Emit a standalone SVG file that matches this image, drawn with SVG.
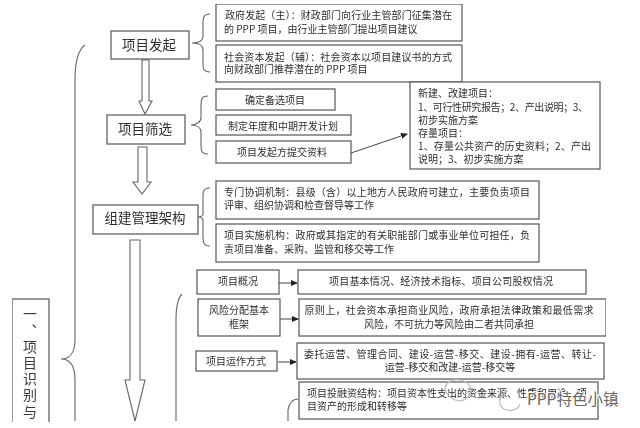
<svg xmlns="http://www.w3.org/2000/svg" width="640" height="428" viewBox="0 0 640 428">
<style>
text{font-family:"Noto Sans CJK SC","Liberation Sans",sans-serif;fill:#2e2e2e;font-size:10px}
.m{text-anchor:middle}
.t{font-size:13.5px}
.v{font-size:14px;writing-mode:vertical-rl;letter-spacing:2.2px;fill:#3a3a3a}
rect{fill:#fff;stroke:#555;stroke-width:1.2}
.c{fill:none;stroke:#666;stroke-width:1.1}
.h{fill:#fff;stroke:#666;stroke-width:1.1}
.a{fill:none;stroke:#444;stroke-width:1}
.w{fill:none;stroke:#bdbdbd;stroke-width:1.2}
</style>
<defs>
<marker id="ah" markerWidth="7" markerHeight="6" refX="6" refY="3" orient="auto" markerUnits="userSpaceOnUse"><path d="M0 0L7 3L0 6Z" fill="#222"/></marker>
<filter id="b" x="0" y="0" width="100%" height="100%"><feGaussianBlur stdDeviation="0.35"/></filter>
</defs>
<rect x="-1" y="-1" width="642" height="430" style="fill:#fff;stroke:none"/>
<g filter="url(#b)">
<g id="connectors">
<path class="h" d="M142 60H149V101H152L145 114L139 101H142Z"/>
<path class="h" d="M138 147H147V182H151L142 194L133 182H138Z"/>
<path class="h" d="M130 240H140V380H145L135 421L125 380H130Z"/>
<path class="c" d="M210 14C202 14 203 20 203 28V36C203 41 198 43 192 43C198 43 203 45 203 50V62C203 68 203 72 210 72"/>
<path class="c" d="M208 96C201 96 201 100 201 108V118C201 122 196 125 191 125C196 125 201 127 201 132V144C201 150 201 154 208 154"/>
<path class="c" d="M210 188C202 188 203 193 203 200V214C203 216 200 217 198 217C200 217 203 218 203 221V235C203 242 203 246 210 246"/>
<path class="c" d="M85 45C78 50 75 62 75 80V340C75 352 70 359 61 359C70 359 75 366 75 380V421"/>
<path class="c" d="M182 294C178 298 176 305 176 320V421"/>
<path class="c" d="M298 399C292 399 289 403 288 410V421"/>
<path class="a" d="M351 153L407 134" marker-end="url(#ah)"/>
<path class="a" d="M276 283H297" marker-end="url(#ah)"/>
<path class="a" d="M277 319H298" marker-end="url(#ah)"/>
<path class="a" d="M278 362H296" marker-end="url(#ah)"/>
</g>
<g id="n1"><rect x="111" y="31" width="78" height="28"/><text class="t m" x="149" y="50">项目发起</text></g>
<g id="n2"><rect x="216" y="4" width="246" height="37"/><text x="225" y="19" textLength="227">政府发起（主）：财政部门向行业主管部门征集潜在</text><text x="224" y="33">的 PPP 项目，由行业主管部门提出项目建议</text></g>
<g id="n3"><rect x="216" y="45" width="246" height="37"/><text x="224" y="61" textLength="228">社会资本发起（辅）：社会资本以项目建议书的方式</text><text x="224" y="73">向财政部门推荐潜在的 PPP 项目</text></g>
<g id="n4"><rect x="107" y="115" width="78" height="29"/><text class="t m" x="145" y="134">项目筛选</text></g>
<g id="n5"><rect x="216" y="89" width="119" height="21"/><text class="m" x="275" y="104">确定备选项目</text></g>
<g id="n6"><rect x="216" y="115" width="135" height="20"/><text class="m" x="283" y="130">制定年度和中期开发计划</text></g>
<g id="n7"><rect x="216" y="141" width="135" height="22"/><text class="m" x="282" y="156">项目发起方提交资料</text></g>
<g id="n8"><rect x="410" y="82" width="190" height="87"/><text x="418" y="97">新建、改建项目：</text><text x="418" y="111" textLength="170">1、可行性研究报告；2、产出说明；3、</text><text x="418" y="124">初步实施方案</text><text x="418" y="137">存量项目：</text><text x="418" y="150" textLength="173">1、存量公共资产的历史资料；2、产出</text><text x="418" y="163">说明；3、初步实施方案</text></g>
<g id="n9"><rect x="93" y="205" width="105" height="29"/><text class="t m" x="145" y="223">组建管理架构</text></g>
<g id="n10"><rect x="216" y="181" width="323" height="38"/><text x="224" y="196" textLength="306">专门协调机制：县级（含）以上地方人民政府可建立，主要负责项目</text><text x="224" y="209">评审、组织协调和检查督导等工作</text></g>
<g id="n11"><rect x="216" y="224" width="323" height="38"/><text x="224" y="239" textLength="306">项目实施机构：政府或其指定的有关职能部门或事业单位可担任，负</text><text x="224" y="253">责项目准备、采购、监管和移交等工作</text></g>
<g id="n12"><rect x="12" y="299" width="37" height="135"/><text class="v" x="30" y="307">一、项目识别与</text></g>
<g id="n13"><rect x="197" y="270" width="82" height="24"/><text class="m" x="238" y="285">项目概况</text></g>
<g id="n14"><rect x="298" y="270" width="288" height="24"/><text class="m" x="441" y="285" textLength="224">项目基本情况、经济技术指标、项目公司股权情况</text></g>
<g id="n15"><rect x="198" y="299" width="82" height="37"/><text class="m" x="239" y="314">风险分配基本</text><text class="m" x="239" y="328">框架</text></g>
<g id="n16"><rect x="299" y="299" width="307" height="37"/><text class="m" x="449" y="314" textLength="289">原则上，社会资本承担商业风险，政府承担法律政策和最低需求</text><text class="m" x="449" y="328">风险，不可抗力等风险由二者共同承担</text></g>
<g id="n17"><rect x="196" y="351" width="81" height="20"/><text class="m" x="236" y="365">项目运作方式</text></g>
<g id="n18"><rect x="297" y="343" width="307" height="36"/><text class="m" x="450" y="358" textLength="292">委托运营、管理合同、建设-运营-移交、建设-拥有-运营、转让-</text><text class="m" x="450" y="371">运营-移交和改建-运营-移交等</text></g>
<g id="n19"><rect x="299" y="382" width="299" height="37"/><text x="307" y="397">项目投融资结构：项目资本性支出的资金来源、性质和用途，项</text><text x="307" y="410">目资产的形成和转移等</text></g>
</g>
<rect x="0" y="422" width="640" height="6" style="fill:#fff;stroke:none"/>
<path class="w" d="M446 392C442 384 452 378 460 380C470 382 474 390 468 397C462 403 452 402 446 392ZM508 391C500 394 496 404 504 409C510 412 518 410 520 404"/>
<text x="527" y="405" style="font-size:15.5px;fill:#666;stroke:#fff;stroke-width:2;paint-order:stroke">PPP特色小镇</text>
</svg>
